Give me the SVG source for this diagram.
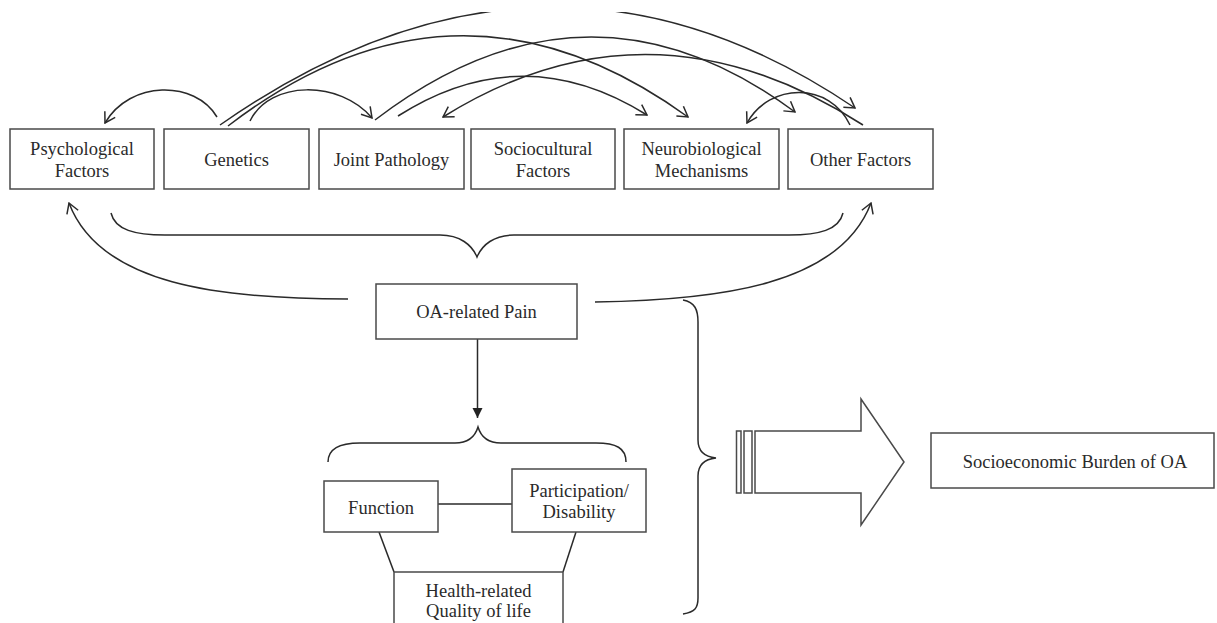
<svg xmlns="http://www.w3.org/2000/svg" width="1217" height="623" viewBox="0 0 1217 623">
<style>
.box{fill:#fff;stroke:#4a4a4a;stroke-width:1.5}
.t{font-family:"Liberation Serif","Times New Roman",serif;font-size:18.5px;fill:#2a2a2a;text-anchor:middle}
.c{fill:none;stroke:#2a2a2a;stroke-width:1.5}
.ca{fill:none;stroke:#2a2a2a;stroke-width:1.5;marker-end:url(#open)}
</style>
<defs>
<marker id="open" viewBox="0 0 12 14" refX="11" refY="7" markerWidth="12" markerHeight="14" markerUnits="userSpaceOnUse" orient="auto">
<path d="M1,1 L11,7 L1,13" fill="none" stroke="#2a2a2a" stroke-width="1.5"/>
</marker>
<marker id="solid" viewBox="0 0 10 12" refX="10" refY="5" markerWidth="10" markerHeight="12" markerUnits="userSpaceOnUse" orient="auto">
<path d="M0,0 L10,5 L0,10 Z" fill="#222"/>
</marker>
<clipPath id="clipTop"><rect x="0" y="12" width="1217" height="611"/></clipPath>
</defs>
<rect width="1217" height="623" fill="#fff"/>

<g id="connectors">
<g clip-path="url(#clipTop)">
<path class="ca" d="M220,125 Q545,-102 855,108"/>
</g>
<path class="ca" d="M217,117 C195,80 130,80 105,123"/>
<path class="ca" d="M250,121 C270,80 340,80 372,118"/>
<path class="ca" d="M228,126 Q457,-50 688,117"/>
<path class="ca" d="M375,120 Q587,-42 795,112"/>
<path class="ca" d="M398,116 Q522,37 647,115"/>
<path class="ca" d="M863,125 Q650,-12 443,117"/>
<path class="ca" d="M850,125 C830,82 770,82 747,123"/>
<path class="c" d="M111,213 C115,230 135,235 165,235 L440,235 C460,235 472,245 477,257 C482,245 494,235 514,235 L789,235 C819,235 839,230 843,213"/>
<path class="ca" d="M348,299 C220,299 100,285 69,203"/>
<path class="ca" d="M595,302 C720,300 840,285 871,203"/>
<path class="c" d="M683,300 C695,302 698,310 698,322 L698,440 C698,452 706,457 716,458 C706,459 698,464 698,476 L698,598 C698,608 695,612 683,614"/>
<line x1="477.5" y1="339" x2="477.5" y2="418" stroke="#2a2a2a" stroke-width="1.5" marker-end="url(#solid)"/>
<path class="c" d="M328,462 C328,448 340,443 360,443 L455,443 C468,443 475,437 478,427 C481,437 488,443 501,443 L596,443 C616,443 626,448 626,462"/>
<line class="c" x1="438" y1="504" x2="512" y2="504"/>
<line class="c" x1="379" y1="532" x2="394" y2="572"/>
<line class="c" x1="576" y1="532" x2="563" y2="572"/>
</g>

<g id="psych"><rect class="box" x="10" y="129" width="144" height="60"/><text class="t" x="82" y="155">Psychological</text><text class="t" x="82" y="177">Factors</text></g>
<g id="genetics"><rect class="box" x="164" y="129" width="145" height="60"/><text class="t" x="236.5" y="166">Genetics</text></g>
<g id="joint"><rect class="box" x="319" y="129" width="145" height="60"/><text class="t" x="391.5" y="166">Joint Pathology</text></g>
<g id="socio"><rect class="box" x="471" y="129" width="144" height="60"/><text class="t" x="543" y="155">Sociocultural</text><text class="t" x="543" y="177">Factors</text></g>
<g id="neuro"><rect class="box" x="624" y="129" width="155" height="60"/><text class="t" x="701.5" y="155">Neurobiological</text><text class="t" x="701.5" y="177">Mechanisms</text></g>
<g id="other"><rect class="box" x="788" y="129" width="145" height="60"/><text class="t" x="860.5" y="166">Other Factors</text></g>
<g id="pain"><rect class="box" x="376" y="284" width="201" height="55"/><text class="t" x="476.5" y="318">OA-related Pain</text></g>
<g id="function"><rect class="box" x="324" y="481" width="114" height="51"/><text class="t" x="381" y="514">Function</text></g>
<g id="participation"><rect class="box" x="512" y="469" width="134" height="63"/><text class="t" x="579" y="497">Participation/</text><text class="t" x="579" y="518">Disability</text></g>
<g id="hrqol"><rect class="box" x="394" y="572" width="169" height="70"/><text class="t" x="478.5" y="597">Health-related</text><text class="t" x="478.5" y="617">Quality of life</text></g>
<g id="bigarrow">
<rect class="box" x="736.5" y="431" width="4.5" height="62"/>
<rect class="box" x="744" y="431" width="8" height="62"/>
<polygon class="box" points="755,431 861,431 861,399 904,462 861,525 861,493 755,493"/>
</g>
<g id="burden"><rect class="box" x="931" y="433" width="283" height="55"/><text class="t" x="1075" y="468">Socioeconomic Burden of OA</text></g>
</svg>
